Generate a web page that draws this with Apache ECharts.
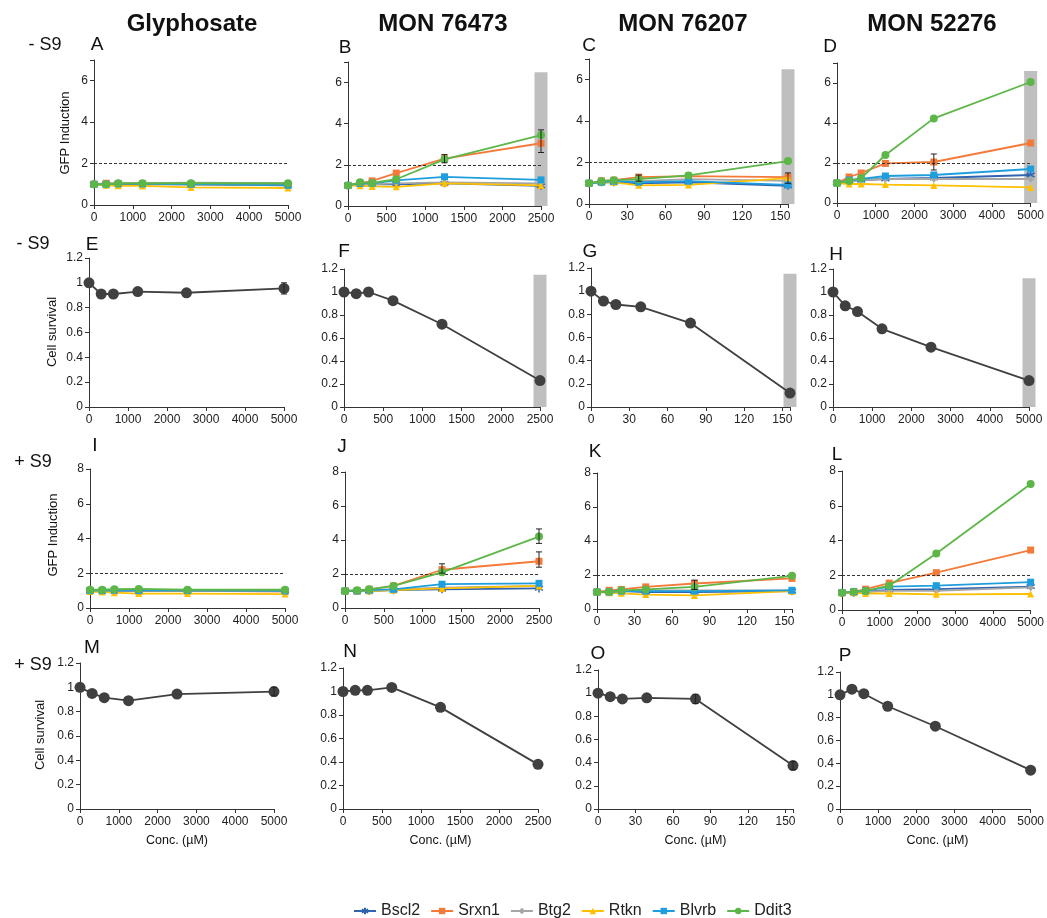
<!DOCTYPE html>
<html><head><meta charset="utf-8">
<script src="https://cdn.jsdelivr.net/npm/echarts@6/dist/echarts.min.js"></script>
<style>html,body{margin:0;padding:0;background:#fff}#c{width:1047px;height:918px}</style>
</head><body><div id="c"></div>
<script>
// ---------- DATA ----------
const genes = ['Bscl2','Srxn1','Btg2','Rtkn','Blvrb','Ddit3'];
const compounds = ['Glyphosate','MON 76473','MON 76207','MON 52276'];
const concGly   = [0, 312.5, 625, 1250, 2500, 5000];
const conc76473 = [0, 156.25, 312.5, 625, 1250, 2500];
const conc76207 = [0, 9.75, 19.5, 39, 78, 156];
const conc52276 = [0, 312.5, 625, 1250, 2500, 5000];

// GFP induction rows: Bscl2, Srxn1, Btg2, Rtkn, Blvrb, Ddit3
const gfpA = [[1.00,1.00,1.02,1.00,1.00,0.98],[1.00,1.05,1.03,1.02,1.00,0.95],[1.00,1.02,1.05,1.05,1.08,1.05],[1.00,0.95,0.93,0.92,0.85,0.82],[1.00,1.00,1.02,1.02,1.00,0.95],[1.00,1.00,1.05,1.05,1.05,1.05]];
const gfpB = [[1.00,1.05,1.05,1.05,1.10,0.98],[1.00,1.10,1.22,1.60,2.30,3.05],[1.00,1.05,1.05,1.10,1.15,1.10],[1.00,0.98,0.95,0.93,1.10,1.00],[1.00,1.10,1.10,1.25,1.42,1.27],[1.00,1.15,1.12,1.30,2.27,3.45]];
const gfpC = [[1.00,1.05,1.05,1.00,1.05,0.88],[1.00,1.12,1.15,1.30,1.35,1.30],[1.00,1.08,1.10,1.10,1.20,1.12],[1.00,1.05,1.05,0.90,0.92,1.25],[1.00,1.05,1.10,1.05,1.10,0.92],[1.00,1.10,1.15,1.20,1.38,2.07]];
const gfpD = [[1.00,1.10,1.15,1.20,1.25,1.40],[1.00,1.30,1.50,1.98,2.05,3.00],[1.00,1.05,1.15,1.20,1.20,1.20],[1.00,0.95,0.95,0.92,0.88,0.78],[1.00,1.15,1.20,1.35,1.40,1.70],[1.00,1.10,1.25,2.40,4.23,6.05]];
const gfpI = [[1.00,1.00,1.00,1.00,1.00,1.00],[1.00,1.00,1.00,0.98,0.98,0.95],[1.00,1.00,1.05,1.02,1.00,1.00],[0.95,0.92,0.88,0.83,0.83,0.80],[1.00,1.00,1.02,1.00,1.00,0.98],[1.05,1.05,1.08,1.10,1.05,1.05]];
const gfpJ = [[1.00,1.00,1.00,1.05,1.10,1.15],[1.00,1.00,1.10,1.30,2.25,2.75],[1.00,1.05,1.05,1.10,1.20,1.30],[1.00,1.00,1.00,1.05,1.15,1.30],[1.00,1.00,1.05,1.10,1.40,1.45],[1.00,1.05,1.10,1.30,2.10,4.20]];
const gfpK = [[1.00,1.00,1.05,1.00,1.00,1.05],[1.00,1.10,1.15,1.30,1.50,1.80],[1.00,1.00,1.05,1.10,1.10,1.10],[1.00,0.95,0.92,0.85,0.80,1.05],[1.00,1.00,1.05,1.05,1.05,1.10],[1.00,1.00,1.10,1.15,1.30,1.95]];
const gfpL = [[1.00,1.00,1.05,1.15,1.20,1.35],[1.00,1.05,1.20,1.55,2.15,3.45],[1.00,1.00,1.05,1.10,1.10,1.30],[1.00,1.00,0.95,0.95,0.90,0.92],[1.00,1.05,1.10,1.35,1.40,1.60],[1.00,1.05,1.10,1.40,3.25,7.25]];

// Cell survival
const survE = [1.00,0.91,0.91,0.93,0.92,0.955];
const survF = [1.00,0.985,1.00,0.925,0.72,0.23];
const survG = [1.00,0.915,0.885,0.865,0.725,0.12];
const survH = [1.00,0.88,0.83,0.68,0.52,0.23];
const survM = [1.00,0.95,0.915,0.89,0.945,0.965];
const survN = [1.00,1.01,1.01,1.035,0.865,0.38];
const survO = [1.00,0.97,0.95,0.96,0.95,0.375];
const survP = [1.00,1.05,1.01,0.90,0.725,0.34];

// error bars [x, low, high]
const errB = [[1250,2.1,2.5],[2500,2.6,3.7]];
const errC = [[39,1.1,1.4],[156,1.0,1.5]];
const errD = [[2500,1.65,2.45]];
const errE = [[5000,0.91,1.0]];
const errJ = [[1250,2.05,2.6],[2500,3.8,4.65],[2500,2.4,3.3]];
const errK = [[78,1.15,1.7]];
const errM = [[5000,0.93,1.0]];
const errO = [[78,0.91,0.99],[156,0.34,0.41]];

// grey bands [x, top]
const bandB = [2500,6.5], bandC = [156,6.5], bandD = [5000,6.6];
const bandF = [2500,1.15], bandG = [156,1.15], bandH = [5000,1.12];

// ---------- STYLE / LAYOUT ----------
const FONT = 'Liberation Sans, Arial, sans-serif';
const colors = {Bscl2:'#2e64b0',Srxn1:'#f47a3a',Btg2:'#a6a6a6',Rtkn:'#ffc000',Blvrb:'#1f9ede',Ddit3:'#5cb748'};
const symbols = {Bscl2:'path://M0,-5L0,5M-4.3,-2.5L4.3,2.5M-4.3,2.5L4.3,-2.5',Srxn1:'rect',Btg2:'diamond',Rtkn:'triangle',Blvrb:'rect',Ddit3:'circle'};

const panels = [
 {g:[94,60,194,145],  kind:'gfp', conc:concGly,  v:gfpA, xmax:5000, xi:1000, ymax:7, yi:2},
 {g:[348,62,193,144], kind:'gfp', conc:conc76473,v:gfpB, xmax:2500, xi:500,  ymax:7, yi:2, err:errB, band:bandB},
 {g:[589,59,199,145], kind:'gfp', conc:conc76207,v:gfpC, xmax:156,  xi:30,   ymax:7, yi:2, err:errC, band:bandC},
 {g:[837,63,195,140], kind:'gfp', conc:conc52276,v:gfpD, xmax:5000, xi:1000, ymax:7, yi:2, err:errD, band:bandD},
 {g:[89,258,195,149], kind:'surv',conc:concGly,  v:survE,xmax:5000, xi:1000, ymax:1.2, yi:0.2, err:errE},
 {g:[344,269,196,138],kind:'surv',conc:conc76473,v:survF,xmax:2500, xi:500,  ymax:1.2, yi:0.2, band:bandF},
 {g:[591,268,199,139],kind:'surv',conc:conc76207,v:survG,xmax:156,  xi:30,   ymax:1.2, yi:0.2, band:bandG},
 {g:[833,269,196,138],kind:'surv',conc:conc52276,v:survH,xmax:5000, xi:1000, ymax:1.2, yi:0.2, band:bandH},
 {g:[90,469,195,139], kind:'gfp', conc:concGly,  v:gfpI, xmax:5000, xi:1000, ymax:8, yi:2},
 {g:[345,472,194,136],kind:'gfp', conc:conc76473,v:gfpJ, xmax:2500, xi:500,  ymax:8, yi:2, err:errJ},
 {g:[597,473,195,136],kind:'gfp', conc:conc76207,v:gfpK, xmax:156,  xi:30,   ymax:8, yi:2, err:errK},
 {g:[842,471,195,139],kind:'gfp', conc:conc52276,v:gfpL, xmax:5000, xi:1000, ymax:8, yi:2},
 {g:[80,663,194,146], kind:'surv',conc:concGly,  v:survM,xmax:5000, xi:1000, ymax:1.2, yi:0.2, err:errM},
 {g:[343,668,195,141],kind:'surv',conc:conc76473,v:survN,xmax:2500, xi:500,  ymax:1.2, yi:0.2},
 {g:[598,670,195,139],kind:'surv',conc:conc76207,v:survO,xmax:156,  xi:30,   ymax:1.2, yi:0.2, err:errO},
 {g:[840,672,195,137],kind:'surv',conc:conc52276,v:survP,xmax:5000, xi:1000, ymax:1.2, yi:0.2}
];

const grid=[], xAxis=[], yAxis=[], series=[];
const axisCol = '#333';
panels.forEach((p,i)=>{
  grid.push({left:p.g[0], top:p.g[1], width:p.g[2], height:p.g[3]});
  xAxis.push({type:'value', gridIndex:i, min:0, max:p.xmax, interval:p.xi, splitLine:{show:false},
    axisLine:{onZero:false, lineStyle:{color:axisCol, width:1}}, axisTick:{length:4, lineStyle:{color:axisCol}},
    axisLabel:{color:'#222', fontSize:12, fontFamily:FONT, margin:7,
      formatter:(v)=> (Math.abs(v/p.xi - Math.round(v/p.xi))<1e-6 ? String(v) : '')}});
  yAxis.push({type:'value', gridIndex:i, min:0, max:p.ymax, interval:p.yi, splitLine:{show:false},
    axisLine:{show:true, lineStyle:{color:axisCol, width:1}}, axisTick:{show:true, length:4, lineStyle:{color:axisCol}},
    axisLabel:{color:'#222', fontSize:12, fontFamily:FONT, margin:6,
      formatter:(v)=> (Math.abs(v/p.yi - Math.round(v/p.yi))<1e-6 ? String(+v.toFixed(2)) : '')}});
  if (p.band) {
    series.push({type:'custom', xAxisIndex:i, yAxisIndex:i, z:1, silent:true, clip:false,
      data:[p.band],
      renderItem:(params, api)=>{
        const a = api.coord([api.value(0), api.value(1)]);
        const b = api.coord([api.value(0), 0]);
        return {type:'rect', shape:{x:a[0]-6.5, y:a[1], width:13, height:b[1]-a[1]}, style:{fill:'#bfbfbf'}};
      }});
  }
  if (p.kind==='gfp') {
    genes.forEach((gn,k)=>{
      const s = {type:'line', name:gn, xAxisIndex:i, yAxisIndex:i, data:p.conc.map((c,j)=>[c,p.v[k][j]]),
        symbol:symbols[gn], symbolSize: (gn==='Bscl2'||gn==='Ddit3')?8:7, color:colors[gn],
        itemStyle: gn==='Bscl2'?{color:colors[gn], borderColor:colors[gn], borderWidth:1.5}:{color:colors[gn]},
        lineStyle:{width:1.8, color:colors[gn]}, z:3+k};
      if (k===0) s.markLine = {silent:true, symbol:'none', label:{show:false}, animation:false,
        lineStyle:{type:[3,2], color:'#333', width:1}, data:[{yAxis:2}]};
      series.push(s);
    });
  } else {
    series.push({type:'line', name:'Cell survival', xAxisIndex:i, yAxisIndex:i,
      data:p.conc.map((c,j)=>[c,p.v[j]]), symbol:'circle', symbolSize:11, color:'#404040',
      lineStyle:{width:1.8, color:'#404040'}, z:3});
  }
  if (p.err) {
    series.push({type:'custom', xAxisIndex:i, yAxisIndex:i, z:10, silent:true, clip:false, data:p.err,
      encode:{x:0, y:[1,2]},
      renderItem:(params, api)=>{
        const a = api.coord([api.value(0), api.value(1)]);
        const b = api.coord([api.value(0), api.value(2)]);
        const st = {stroke:'#222', lineWidth:1};
        return {type:'group', children:[
          {type:'line', shape:{x1:a[0],y1:a[1],x2:b[0],y2:b[1]}, style:st},
          {type:'line', shape:{x1:a[0]-3,y1:a[1],x2:a[0]+3,y2:a[1]}, style:st},
          {type:'line', shape:{x1:b[0]-3,y1:b[1],x2:b[0]+3,y2:b[1]}, style:st}]};
      }});
  }
});

// ---------- TEXT ----------
const texts = [];
function txt(x,y,s,size,weight,rot,align){
  texts.push({type:'text', x:x, y:y, rotation:rot||0, style:{text:s, fontSize:size, fontWeight:weight||'normal',
    fontFamily:FONT, fill:'#111', textAlign:align||'center', textVerticalAlign:'middle'}});
}
const titleX = [192,443,683,932];
compounds.forEach((c,i)=>txt(titleX[i],24,c,24,'bold'));
txt(45,45,'- S9',18); txt(33,244,'- S9',18); txt(33,462,'+ S9',18); txt(33,665,'+ S9',18);
const letters = [['A',97,45],['B',345,48],['C',589,46],['D',830,47],['E',92,245],['F',344,252],['G',590,252],['H',836,255],
  ['I',95,446],['J',342,447],['K',595,452],['L',837,455],['M',92,648],['N',350,652],['O',598,654],['P',845,656]];
letters.forEach(l=>txt(l[1],l[2],l[0],19));
txt(65,133,'GFP Induction',13,'normal',Math.PI/2);
txt(52,332,'Cell survival',13,'normal',Math.PI/2);
txt(53,535,'GFP Induction',13,'normal',Math.PI/2);
txt(40,735,'Cell survival',13,'normal',Math.PI/2);
[12,13,14,15].forEach(i=>{const g=panels[i].g; txt(g[0]+g[2]/2, 841, 'Conc. (µM)', 12.5);});

const chart = echarts.init(document.getElementById('c'), null, {renderer:'canvas'});
chart.setOption({
  animation:false,
  backgroundColor:'#fff',
  textStyle:{fontFamily:FONT},
  grid, xAxis, yAxis, series,
  legend:{data:genes, left:348, top:898, itemGap:10, itemWidth:22, itemHeight:8,
    textStyle:{fontSize:16, color:'#222', fontFamily:FONT}},
  graphic: texts
});
</script></body></html>
